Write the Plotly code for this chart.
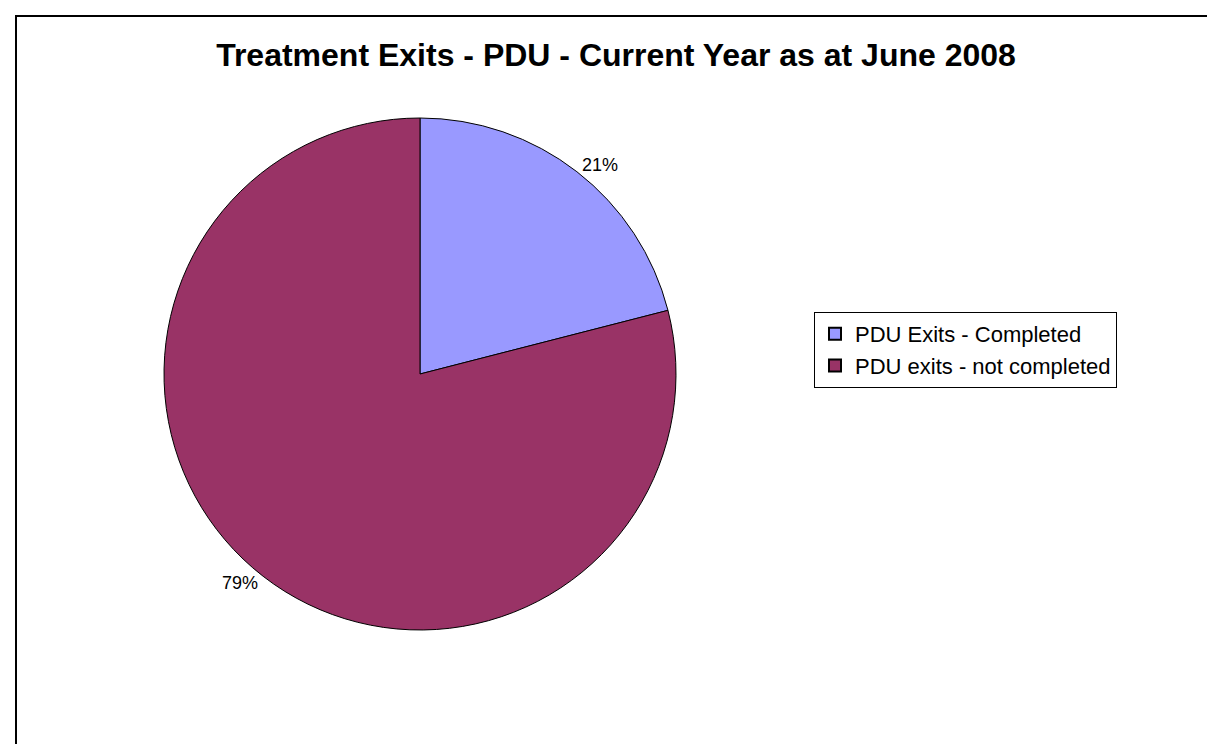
import plotly.graph_objects as go

title_text = "Treatment Exits - PDU - Current Year as at June 2008"
categories = ["PDU Exits - Completed", "PDU exits - not completed"]
values = [21, 79]
colors = ["#9999FF", "#993366"]

W, H = 1215, 744
cx, cy, r = 412, 366, 256

fig = go.Figure()
fig.add_trace(go.Pie(
    labels=categories,
    values=values,
    sort=False,
    direction="clockwise",
    rotation=0,
    marker=dict(colors=colors, line=dict(color="#000000", width=1)),
    textinfo="percent",
    textposition="outside",
    outsidetextfont=dict(size=18, color="#000000"),
    domain=dict(x=[(cx - r) / W, (cx + r) / W], y=[(H - cy - r) / H, (H - cy + r) / H]),
    showlegend=True,
    hoverinfo="label+percent",
))

fig.update_layout(
    width=W, height=H,
    margin=dict(l=0, r=0, t=0, b=0),
    paper_bgcolor="white",
    plot_bgcolor="white",
    font=dict(family="Liberation Sans, Arial, sans-serif", color="#000000"),
    title=dict(text="<b>" + title_text + "</b>", x=608 / W, xanchor="center",
               y=1 - 47 / H, yanchor="middle",
               font=dict(size=32, color="#000000")),
    legend=dict(x=806 / W, y=1 - 304 / H, xanchor="left", yanchor="top",
                bordercolor="#000000", borderwidth=1, bgcolor="white",
                font=dict(size=22, color="#000000"),
                itemwidth=30, itemsizing="constant"),
    shapes=[dict(type="rect", xref="paper", yref="paper",
                 x0=8 / W, x1=1210 / W, y0=-0.02, y1=1 - 8 / H,
                 line=dict(color="#000000", width=2), layer="below")],
)

fig.write_html("out.html")
